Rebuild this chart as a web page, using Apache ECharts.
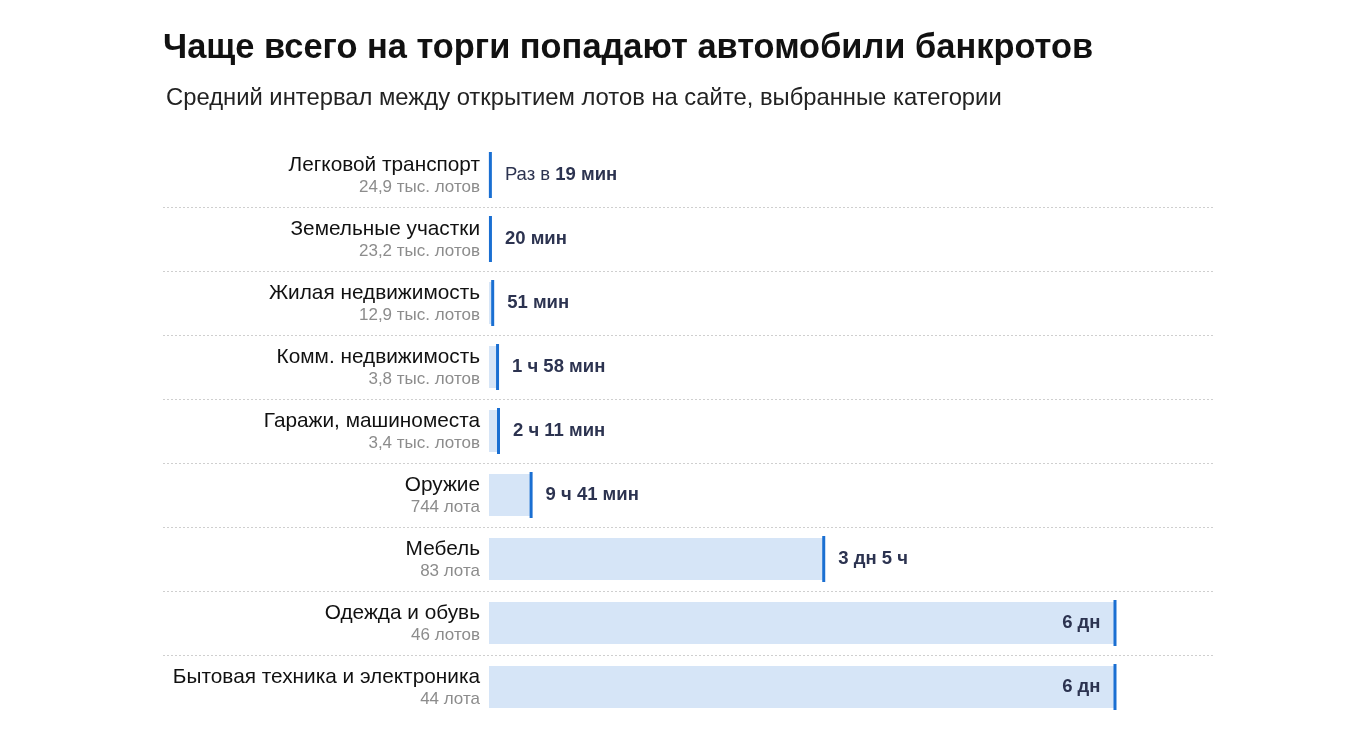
<!DOCTYPE html>
<html lang="ru">
<head>
    <meta charset="UTF-8">
    <title>Торги банкротов</title>
    <style>
        html, body { margin: 0; padding: 0; background: #fff; }
        #main { width: 1366px; height: 736px; }
    </style>
    <script src="https://cdn.jsdelivr.net/npm/echarts@6/dist/echarts.min.js"></script>
</head>
<body>
<div id="main"></div>
<script>

    // категории и подписи с числом лотов
    var categories = ['Легковой транспорт', 'Земельные участки', 'Жилая недвижимость', 'Комм. недвижимость',
        'Гаражи, машиноместа', 'Оружие', 'Мебель', 'Одежда и обувь', 'Бытовая техника и электроника'];
    var lots = ['24,9 тыс. лотов', '23,2 тыс. лотов', '12,9 тыс. лотов', '3,8 тыс. лотов', '3,4 тыс. лотов',
        '744 лота', '83 лота', '46 лотов', '44 лота'];
    // средний интервал, минуты
    var minutes = [19, 20, 51, 118, 131, 581, 4620, 8640, 8640];
    var valueLabels = ['19 мин', '20 мин', '51 мин', '1 ч 58 мин', '2 ч 11 мин', '9 ч 41 мин', '3 дн 5 ч', '6 дн', '6 дн'];

    var FONT = '"Liberation Sans", Arial, sans-serif';
    var maxVal = 8640;

    var chart = echarts.init(document.getElementById('main'));

    var markerData = minutes.map(function (v, i) {
        var inside = v > maxVal * 0.8;
        return {
            value: [v, categories[i]],
            label: { position: inside ? 'left' : 'right' }
        };
    });

    var option = {
        animation: false,
        title: [{
            text: 'Чаще всего на торги попадают автомобили банкротов',
            left: 158, top: 27,
            textStyle: { fontFamily: FONT, fontSize: 34.4, fontWeight: 'bold', color: '#111' }
        }, {
            text: 'Средний интервал между открытием лотов на сайте, выбранные категории',
            left: 161, top: 81,
            textStyle: { fontFamily: FONT, fontSize: 23.8, fontWeight: 'normal', color: '#222' }
        }],
        grid: [
            { left: 489, right: 251, top: 143, height: 576 },
            { left: 163, right: 151, top: 143, height: 576 }
        ],
        xAxis: [
            { gridIndex: 0, type: 'value', min: 0, max: maxVal, show: false },
            { gridIndex: 1, type: 'value', min: 0, max: 1, show: false }
        ],
        yAxis: [{
            gridIndex: 0,
            type: 'category',
            inverse: true,
            data: categories,
            axisLine: { show: false },
            axisTick: { show: false },
            axisLabel: {
                margin: 9,
                formatter: function (val, idx) {
                    return '{n|' + val + '}\n{c|' + lots[idx] + '}';
                },
                rich: {
                    n: { fontFamily: FONT, fontSize: 20.8, color: '#111', lineHeight: 24, align: 'right' },
                    c: { fontFamily: FONT, fontSize: 17, color: '#8c8c8c', lineHeight: 20, align: 'right' }
                }
            }
        }, {
            // пунктирные разделители строк
            gridIndex: 1,
            type: 'value',
            inverse: true,
            min: 0, max: 9, interval: 1,
            axisLine: { show: false },
            axisTick: { show: false },
            axisLabel: { show: false },
            splitLine: {
                show: true,
                showMinLine: false,
                showMaxLine: false,
                lineStyle: { color: '#cfcfcf', type: [2, 2], width: 1 }
            }
        }],
        series: [{
            type: 'bar',
            xAxisIndex: 0, yAxisIndex: 0,
            data: minutes,
            barWidth: 42,
            itemStyle: { color: '#d6e5f7' },
            silent: true
        }, {
            type: 'scatter',
            xAxisIndex: 0, yAxisIndex: 0,
            data: markerData,
            symbol: 'rect',
            symbolSize: [3, 46],
            itemStyle: { color: '#1a6fd2', opacity: 1 },
            label: {
                show: true,
                distance: 13,
                fontFamily: FONT,
                formatter: function (p) {
                    var t = '{b|' + valueLabels[p.dataIndex] + '}';
                    if (p.dataIndex === 0) t = '{r|Раз в }' + t;
                    return t;
                },
                rich: {
                    r: { fontFamily: FONT, fontSize: 18.5, color: '#2c3350' },
                    b: { fontFamily: FONT, fontSize: 18.5, fontWeight: 'bold', color: '#2c3350' }
                }
            },
            z: 3
        }]
    };

    chart.setOption(option);

</script>
</body>
</html>
